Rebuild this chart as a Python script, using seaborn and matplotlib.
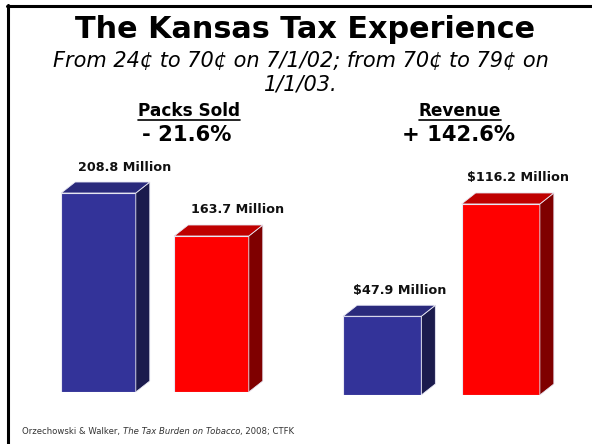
import matplotlib
matplotlib.use("Agg")
import matplotlib.pyplot as plt
import seaborn as sns
from matplotlib.patches import Polygon
from matplotlib.lines import Line2D

# ---- data -------------------------------------------------------------
periods = ["Before increase", "After increase"]
packs_values = [208.8, 163.7]      # packs sold, millions
revenue_values = [47.9, 116.2]     # tax revenue, millions of dollars
packs_labels = ["208.8 Million", "163.7 Million"]
revenue_labels = ["$47.9 Million", "$116.2 Million"]
group_titles = ["Packs Sold", "Revenue"]
group_changes = ["- 21.6%", "+ 142.6%"]
title_text = "The Kansas Tax Experience"
subtitle_text = "From 24\u00a2 to 70\u00a2 on 7/1/02; from 70\u00a2 to 79\u00a2 on\n1/1/03."
source_parts = ["Orzechowski & Walker, ", "The Tax Burden on Tobacco", ", 2008; CTFK"]

# ---- style ------------------------------------------------------------
sns.set_theme(style="white")
plt.rcParams["font.family"] = ["DejaVu Sans"]

FRONT = ["#333399", "#FF0000"]
TOP = ["#2A2A7C", "#BF0000"]
SIDE = ["#1B1B4D", "#7F0000"]
DEPTH_X, DEPTH_Y = 14, 11          # extrusion in pixels

fig = plt.figure(figsize=(5.92, 4.44), dpi=100)
W, H = 592, 444


def px_axes(left, bottom, width, height):
    """Axes placed with pixel coordinates measured from the top-left."""
    return fig.add_axes([left / W, 1 - bottom / H, width / W, height / H])


ax_packs = px_axes(42, 392, 226, 230 * 0.953)
ax_rev = px_axes(323, 395, 237, 130 * 1.644)


def draw_3d_bars(ax, values, labels, ymax, label_dx):
    sns.barplot(x=periods, y=values, hue=periods, palette=FRONT,
                saturation=1, width=0.66, legend=False, ax=ax,
                edgecolor="#E8E8F4", linewidth=0.8)
    ax.set_xlim(-0.5, 1.5)
    ax.set_ylim(0, ymax)
    ax.set_axis_off()
    fig.canvas.draw()
    to_disp = ax.transData
    to_data = ax.transData.inverted()
    sx = DEPTH_X * fig.dpi / 100
    sy = DEPTH_Y * fig.dpi / 100
    bars = sorted(ax.patches, key=lambda p: p.get_x())
    for i, (bar, label) in enumerate(zip(bars, labels)):
        x0, x1 = bar.get_x(), bar.get_x() + bar.get_width()
        h = bar.get_height()
        (dx0, dy0), (dx1, dy1) = to_disp.transform([(x0, 0), (x1, h)])
        side = [(dx1, dy0), (dx1, dy1), (dx1 + sx, dy1 + sy), (dx1 + sx, dy0 + sy)]
        top = [(dx0, dy1), (dx1, dy1), (dx1 + sx, dy1 + sy), (dx0 + sx, dy1 + sy)]
        for verts, col in ((side, SIDE[i]), (top, TOP[i])):
            poly = Polygon(to_data.transform(verts), closed=True,
                           facecolor=col, edgecolor="#E8E8F4",
                           linewidth=0.6, clip_on=False, zorder=3)
            ax.add_patch(poly)
        ax.annotate(label, xy=((x0 + x1) / 2, h), xytext=(label_dx, 26),
                    textcoords="offset pixels", ha="center", va="center",
                    fontsize=9.2, fontweight="bold", color="#111111",
                    annotation_clip=False, parse_math=False)


draw_3d_bars(ax_packs, packs_values, packs_labels, 230, 26)
draw_3d_bars(ax_rev, revenue_values, revenue_labels, 130, 17)

# ---- titles -------------------------------------------------------------
fig.text(305 / W, 1 - 29 / H, title_text, ha="center", va="center",
         fontsize=21.8, fontweight="bold", color="black")
fig.text(301 / W, 1 - 73 / H, subtitle_text, ha="center", va="center",
         fontsize=15, style="italic", color="black", linespacing=1.2)

fig.canvas.draw()
renderer = fig.canvas.get_renderer()
for cx, head, change in zip([189, 460], group_titles, group_changes):
    t = fig.text(cx / W, 1 - 111 / H, head, ha="center", va="center",
                 fontsize=12.2, fontweight="bold", color="black")
    fig.text((cx - 2) / W, 1 - 135 / H, change, ha="center", va="center",
             fontsize=15.2, fontweight="bold", color="black")
    bb = t.get_window_extent(renderer)
    fig.add_artist(Line2D([bb.x0 / W, bb.x1 / W], [1 - 120 / H] * 2,
                          color="black", linewidth=1.2))

# ---- source line (plain, italic title, plain) ---------------------------
prev = fig.text(22 / W, 1 - 436 / H, source_parts[0], ha="left",
                va="bottom", fontsize=6.15, color="#333333")
for part, italic in zip(source_parts[1:], [True, False]):
    prev = ax_packs.annotate(part, xy=(1, 0), xycoords=prev, ha="left",
                             va="bottom", fontsize=6.15, color="#333333",
                             style="italic" if italic else "normal",
                             annotation_clip=False)

# ---- frame --------------------------------------------------------------
fig.add_artist(Line2D([6.5 / W, 1], [1 - 6 / H] * 2, color="black", linewidth=2.2))
fig.add_artist(Line2D([7.5 / W] * 2, [0, 1 - 5 / H], color="black", linewidth=2.2))

fig.savefig("out.png", dpi=100)
